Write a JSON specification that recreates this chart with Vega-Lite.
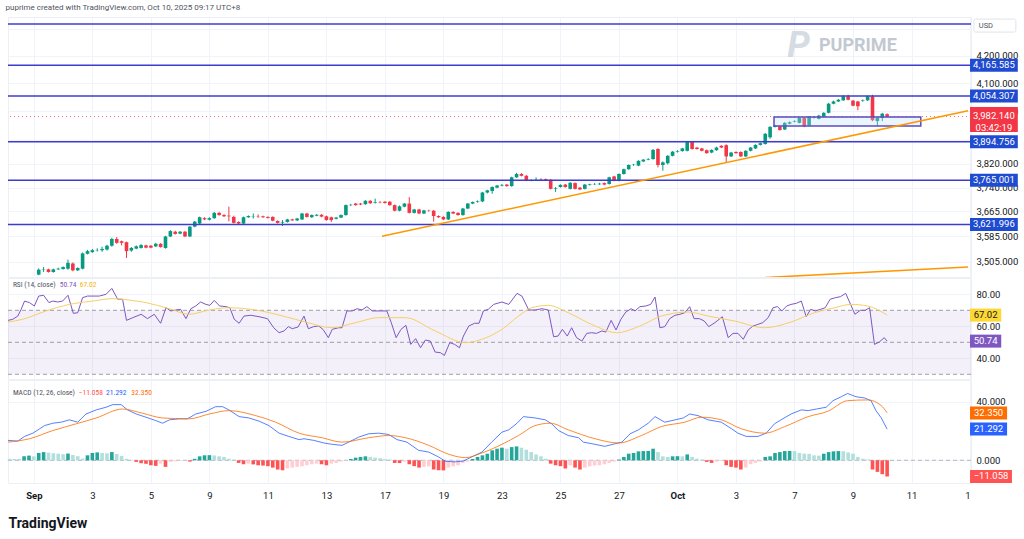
{
"$schema":"https://vega.github.io/schema/vega-lite/v6.json",
"background":"#ffffff",
"padding":{"left":5,"top":3,"right":0,"bottom":0},
"spacing":1,
"bounds":"flush",
"title":{"text":"puprime created with TradingView.com, Oct 10, 2025 09:17 UTC+8","anchor":"start","fontSize":8,"fontWeight":"normal","color":"#50535e","offset":5,"font":"Roboto"},
"config":{"font":"Roboto","view":{"stroke":"#eceff4","strokeWidth":1},"axis":{"labelFont":"Roboto","labelColor":"#131722","labelFontSize":9.5,"gridColor":"#f0f3fa","gridWidth":1,"domain":false,"ticks":false}},
"datasets":{
"candles":[
{"i":1,"o":3466,"h":3485,"l":3464,"c":3481},{"i":2,"o":3481,"h":3489,"l":3474,"c":3482},{"i":3,"o":3482,"h":3484,"l":3472,"c":3474},{"i":4,"o":3474,"h":3484,"l":3472,"c":3482},{"i":5,"o":3482,"h":3487,"l":3480,"c":3484},{"i":6,"o":3483,"h":3491,"l":3481,"c":3489},{"i":7,"o":3484,"h":3512,"l":3481,"c":3502},{"i":8,"o":3500,"h":3503,"l":3476,"c":3479},{"i":9,"o":3479,"h":3488,"l":3477,"c":3486},{"i":10,"o":3484,"h":3534,"l":3482,"c":3531},
{"i":11,"o":3530,"h":3542,"l":3528,"c":3538},{"i":12,"o":3535,"h":3545,"l":3533,"c":3541},{"i":13,"o":3541,"h":3547,"l":3537,"c":3542},{"i":14,"o":3541,"h":3552,"l":3536,"c":3545},{"i":15,"o":3543,"h":3558,"l":3540,"c":3555},{"i":16,"o":3555,"h":3580,"l":3552,"c":3576},{"i":17,"o":3576,"h":3582,"l":3561,"c":3564},{"i":18,"o":3569,"h":3571,"l":3556,"c":3564},{"i":19,"o":3566,"h":3568,"l":3517,"c":3538},{"i":20,"o":3540,"h":3551,"l":3536,"c":3548},
{"i":21,"o":3546,"h":3556,"l":3544,"c":3553},{"i":22,"o":3548,"h":3560,"l":3546,"c":3557},{"i":23,"o":3556,"h":3558,"l":3547,"c":3549},{"i":24,"o":3555,"h":3557,"l":3547,"c":3549},{"i":25,"o":3553,"h":3564,"l":3551,"c":3561},{"i":26,"o":3561,"h":3563,"l":3549,"c":3551},{"i":27,"o":3548,"h":3586,"l":3546,"c":3584},{"i":28,"o":3584,"h":3604,"l":3582,"c":3601},{"i":29,"o":3599,"h":3602,"l":3590,"c":3592},{"i":30,"o":3593,"h":3601,"l":3591,"c":3599},
{"i":31,"o":3599,"h":3601,"l":3582,"c":3584},{"i":32,"o":3584,"h":3617,"l":3582,"c":3615},{"i":33,"o":3615,"h":3633,"l":3613,"c":3631},{"i":34,"o":3625,"h":3647,"l":3622,"c":3645},{"i":35,"o":3642,"h":3645,"l":3636,"c":3638},{"i":36,"o":3637,"h":3645,"l":3635,"c":3642},{"i":37,"o":3642,"h":3662,"l":3640,"c":3659},{"i":38,"o":3659,"h":3662,"l":3650,"c":3652},{"i":39,"o":3652,"h":3655,"l":3646,"c":3648},{"i":40,"o":3650,"h":3679,"l":3632,"c":3648},
{"i":41,"o":3646,"h":3650,"l":3625,"c":3627},{"i":42,"o":3630,"h":3632,"l":3622,"c":3625},{"i":43,"o":3625,"h":3647,"l":3623,"c":3645},{"i":44,"o":3645,"h":3651,"l":3643,"c":3649},{"i":45,"o":3648,"h":3657,"l":3641,"c":3649},{"i":46,"o":3649,"h":3654,"l":3643,"c":3648},{"i":47,"o":3648,"h":3650,"l":3643,"c":3645},{"i":48,"o":3646,"h":3648,"l":3641,"c":3643},{"i":49,"o":3646,"h":3648,"l":3632,"c":3634},{"i":50,"o":3633,"h":3635,"l":3625,"c":3627},
{"i":51,"o":3628,"h":3636,"l":3617,"c":3630},{"i":52,"o":3630,"h":3640,"l":3628,"c":3638},{"i":53,"o":3638,"h":3640,"l":3633,"c":3635},{"i":54,"o":3635,"h":3643,"l":3633,"c":3641},{"i":55,"o":3638,"h":3659,"l":3636,"c":3657},{"i":56,"o":3657,"h":3659,"l":3644,"c":3646},{"i":57,"o":3645,"h":3654,"l":3643,"c":3652},{"i":58,"o":3650,"h":3655,"l":3648,"c":3653},{"i":59,"o":3653,"h":3655,"l":3645,"c":3647},{"i":60,"o":3648,"h":3650,"l":3634,"c":3636},
{"i":61,"o":3645,"h":3647,"l":3630,"c":3636},{"i":62,"o":3640,"h":3646,"l":3638,"c":3644},{"i":63,"o":3644,"h":3654,"l":3642,"c":3652},{"i":64,"o":3652,"h":3686,"l":3650,"c":3684},{"i":65,"o":3684,"h":3688,"l":3681,"c":3685},{"i":66,"o":3689,"h":3691,"l":3682,"c":3684},{"i":67,"o":3689,"h":3691,"l":3684,"c":3686},{"i":68,"o":3687,"h":3700,"l":3685,"c":3698},{"i":69,"o":3698,"h":3700,"l":3688,"c":3690},{"i":70,"o":3692,"h":3705,"l":3689,"c":3694},
{"i":71,"o":3694,"h":3697,"l":3690,"c":3693},{"i":72,"o":3695,"h":3697,"l":3689,"c":3691},{"i":73,"o":3695,"h":3697,"l":3682,"c":3684},{"i":74,"o":3684,"h":3686,"l":3664,"c":3666},{"i":75,"o":3666,"h":3683,"l":3664,"c":3680},{"i":76,"o":3679,"h":3691,"l":3677,"c":3689},{"i":77,"o":3689,"h":3710,"l":3657,"c":3659},{"i":78,"o":3659,"h":3672,"l":3657,"c":3670},{"i":79,"o":3670,"h":3672,"l":3655,"c":3657},{"i":80,"o":3657,"h":3669,"l":3655,"c":3667},
{"i":81,"o":3667,"h":3669,"l":3663,"c":3666},{"i":82,"o":3666,"h":3668,"l":3631,"c":3649},{"i":83,"o":3649,"h":3651,"l":3643,"c":3645},{"i":84,"o":3646,"h":3648,"l":3636,"c":3638},{"i":85,"o":3638,"h":3664,"l":3636,"c":3662},{"i":86,"o":3662,"h":3664,"l":3655,"c":3657},{"i":87,"o":3659,"h":3661,"l":3650,"c":3652},{"i":88,"o":3652,"h":3675,"l":3650,"c":3673},{"i":89,"o":3673,"h":3691,"l":3671,"c":3689},{"i":90,"o":3689,"h":3696,"l":3687,"c":3694},
{"i":91,"o":3694,"h":3699,"l":3692,"c":3696},{"i":92,"o":3696,"h":3727,"l":3694,"c":3725},{"i":93,"o":3725,"h":3734,"l":3722,"c":3732},{"i":94,"o":3730,"h":3745,"l":3721,"c":3743},{"i":95,"o":3741,"h":3750,"l":3739,"c":3748},{"i":96,"o":3748,"h":3753,"l":3745,"c":3750},{"i":97,"o":3751,"h":3753,"l":3744,"c":3746},{"i":98,"o":3746,"h":3777,"l":3744,"c":3775},{"i":99,"o":3775,"h":3790,"l":3773,"c":3786},{"i":100,"o":3786,"h":3789,"l":3778,"c":3780},
{"i":101,"o":3780,"h":3783,"l":3762,"c":3764},{"i":102,"o":3765,"h":3769,"l":3762,"c":3766},{"i":103,"o":3768,"h":3775,"l":3764,"c":3769},{"i":104,"o":3769,"h":3772,"l":3765,"c":3768},{"i":105,"o":3769,"h":3771,"l":3763,"c":3765},{"i":106,"o":3767,"h":3769,"l":3735,"c":3737},{"i":107,"o":3737,"h":3743,"l":3727,"c":3739},{"i":108,"o":3743,"h":3752,"l":3741,"c":3750},{"i":109,"o":3751,"h":3753,"l":3741,"c":3743},{"i":110,"o":3737,"h":3759,"l":3735,"c":3757},
{"i":111,"o":3756,"h":3758,"l":3735,"c":3737},{"i":112,"o":3741,"h":3743,"l":3733,"c":3735},{"i":113,"o":3737,"h":3753,"l":3735,"c":3751},{"i":114,"o":3750,"h":3754,"l":3748,"c":3752},{"i":115,"o":3752,"h":3756,"l":3750,"c":3753},{"i":116,"o":3752,"h":3757,"l":3750,"c":3754},{"i":117,"o":3756,"h":3758,"l":3749,"c":3751},{"i":118,"o":3753,"h":3777,"l":3751,"c":3775},{"i":119,"o":3778,"h":3780,"l":3762,"c":3764},{"i":120,"o":3764,"h":3788,"l":3762,"c":3786},
{"i":121,"o":3786,"h":3804,"l":3784,"c":3802},{"i":122,"o":3802,"h":3818,"l":3800,"c":3816},{"i":123,"o":3816,"h":3820,"l":3813,"c":3817},{"i":124,"o":3814,"h":3832,"l":3812,"c":3830},{"i":125,"o":3828,"h":3836,"l":3826,"c":3834},{"i":126,"o":3834,"h":3839,"l":3832,"c":3836},{"i":127,"o":3836,"h":3870,"l":3834,"c":3867},{"i":128,"o":3870,"h":3873,"l":3808,"c":3816},{"i":129,"o":3816,"h":3828,"l":3797,"c":3825},{"i":130,"o":3822,"h":3849,"l":3818,"c":3847},
{"i":131,"o":3847,"h":3863,"l":3845,"c":3861},{"i":132,"o":3861,"h":3866,"l":3858,"c":3863},{"i":133,"o":3863,"h":3874,"l":3861,"c":3872},{"i":134,"o":3864,"h":3897,"l":3862,"c":3894},{"i":135,"o":3894,"h":3897,"l":3868,"c":3870},{"i":136,"o":3875,"h":3877,"l":3868,"c":3870},{"i":137,"o":3872,"h":3874,"l":3862,"c":3864},{"i":138,"o":3866,"h":3868,"l":3854,"c":3856},{"i":139,"o":3858,"h":3869,"l":3856,"c":3867},{"i":140,"o":3866,"h":3878,"l":3864,"c":3875},
{"i":141,"o":3881,"h":3883,"l":3873,"c":3875},{"i":142,"o":3883,"h":3886,"l":3825,"c":3845},{"i":143,"o":3845,"h":3860,"l":3843,"c":3858},{"i":144,"o":3860,"h":3862,"l":3854,"c":3856},{"i":145,"o":3860,"h":3862,"l":3843,"c":3845},{"i":146,"o":3845,"h":3866,"l":3843,"c":3864},{"i":147,"o":3864,"h":3877,"l":3862,"c":3875},{"i":148,"o":3872,"h":3886,"l":3870,"c":3884},{"i":149,"o":3884,"h":3892,"l":3882,"c":3890},{"i":150,"o":3887,"h":3925,"l":3885,"c":3922},
{"i":151,"o":3910,"h":3948,"l":3905,"c":3946},{"i":152,"o":3946,"h":3953,"l":3944,"c":3950},{"i":153,"o":3948,"h":3950,"l":3933,"c":3935},{"i":154,"o":3937,"h":3962,"l":3935,"c":3960},{"i":155,"o":3957,"h":3965,"l":3955,"c":3962},{"i":156,"o":3964,"h":3969,"l":3962,"c":3966},{"i":157,"o":3960,"h":3980,"l":3958,"c":3977},{"i":158,"o":3977,"h":3980,"l":3945,"c":3948},{"i":159,"o":3951,"h":3983,"l":3949,"c":3981},{"i":160,"o":3978,"h":3983,"l":3975,"c":3979},
{"i":161,"o":3974,"h":3988,"l":3972,"c":3985},{"i":162,"o":3981,"h":3997,"l":3979,"c":3995},{"i":163,"o":3995,"h":4030,"l":3993,"c":4027},{"i":164,"o":4027,"h":4038,"l":4025,"c":4035},{"i":165,"o":4035,"h":4044,"l":4033,"c":4041},{"i":166,"o":4039,"h":4058,"l":4037,"c":4053},{"i":167,"o":4053,"h":4059,"l":4039,"c":4041},{"i":168,"o":4038,"h":4040,"l":4018,"c":4020},{"i":169,"o":4035,"h":4037,"l":4004,"c":4018},{"i":170,"o":4037,"h":4042,"l":4034,"c":4039},
{"i":171,"o":4039,"h":4056,"l":4037,"c":4053},{"i":172,"o":4053,"h":4059,"l":3966,"c":3969},{"i":173,"o":3966,"h":3980,"l":3948,"c":3977},{"i":174,"o":3977,"h":3995,"l":3966,"c":3992},{"i":175,"o":3990,"h":3993,"l":3980,"c":3982.14}
],
"levels":[{"p":4319},{"p":4165.585},{"p":4054.307},{"p":3894.756},{"p":3765.001},{"p":3621.996}],
"last":[{"p":3982.14,"t":"03:42:19"}],
"zone":[{"i1":151.8,"i2":181.9,"p1":3948.9,"p2":3980.2}],
"trend":[{"id":"a","i":71.4,"p":3585},{"id":"a","i":191.6,"p":4002},{"id":"b","i":150,"p":3457},{"id":"b","i":191.6,"p":3489}],
"rsi":[{"i":-5.3,"v":63.7},{"i":-4.3,"v":64.4},{"i":-3.3,"v":66.4},{"i":-2.6,"v":70.6},{"i":-1.9,"v":75.8},{"i":-0.9,"v":74.8},{"i":0.1,"v":72.7},{"i":1,"v":78.9},{"i":2,"v":79.4},{"i":3.1,"v":74.8},{"i":3.9,"v":75.8},{"i":4.9,"v":75.2},{"i":5.9,"v":75.8},{"i":7,"v":79.4},{"i":8.1,"v":68.1},{"i":9,"v":68.5},{"i":10,"v":77.9},{"i":11,"v":78.9},{"i":13.4,"v":78.9},{"i":14.8,"v":80},{"i":16,"v":83.7},{"i":17.2,"v":76.9},{"i":18.2,"v":76.9},{"i":19,"v":63.7},{"i":20.3,"v":65.4},{"i":22,"v":67.5},{"i":23.3,"v":64.8},{"i":24.7,"v":67.5},{"i":26,"v":61.9},{"i":27.1,"v":71.6},{"i":28.1,"v":69.6},{"i":29.1,"v":70.2},{"i":30.1,"v":70.6},{"i":31.2,"v":64.8},{"i":32.2,"v":71},{"i":33.2,"v":72.7},{"i":34.2,"v":75.2},{"i":35.3,"v":73.7},{"i":36.1,"v":73.1},{"i":37,"v":76.2},{"i":38.1,"v":72.7},{"i":39.4,"v":72.3},{"i":40.2,"v":71.6},{"i":41.1,"v":64.4},{"i":42.1,"v":61.9},{"i":43.1,"v":66.4},{"i":44.5,"v":66.9},{"i":46.2,"v":66},{"i":47.9,"v":64.8},{"i":49.2,"v":59.1},{"i":50.3,"v":56},{"i":51.3,"v":57.1},{"i":52.2,"v":59.8},{"i":53,"v":58.5},{"i":54.2,"v":59.6},{"i":55.4,"v":66.4},{"i":56.3,"v":58.5},{"i":57.4,"v":59.8},{"i":58.4,"v":60.2},{"i":59.3,"v":58.1},{"i":60.4,"v":52.9},{"i":61.2,"v":58.1},{"i":62.5,"v":59.1},{"i":63.2,"v":59.1},{"i":64.2,"v":69.6},{"i":65.3,"v":69.6},{"i":66.3,"v":71},{"i":67.3,"v":70.2},{"i":68.3,"v":72.3},{"i":69.4,"v":69.6},{"i":70.4,"v":69.6},{"i":71.4,"v":69.6},{"i":72.4,"v":69.6},{"i":73.3,"v":62.3},{"i":74.3,"v":52.9},{"i":75.3,"v":58.1},{"i":76.3,"v":60.6},{"i":77.3,"v":48.7},{"i":78.3,"v":52.3},{"i":79.3,"v":46.6},{"i":80.3,"v":51.4},{"i":81.3,"v":50.8},{"i":82.3,"v":43.9},{"i":83.4,"v":43.5},{"i":84.2,"v":41.8},{"i":85.3,"v":49.8},{"i":86.3,"v":48.7},{"i":87.3,"v":46.6},{"i":88.1,"v":53.9},{"i":89.2,"v":60.2},{"i":90.4,"v":61.9},{"i":91.3,"v":61.9},{"i":92.2,"v":69.6},{"i":93.2,"v":70.6},{"i":94.3,"v":73.7},{"i":96,"v":75.2},{"i":97.4,"v":73.7},{"i":99.1,"v":80.6},{"i":100.1,"v":78.9},{"i":101.5,"v":70.2},{"i":102.8,"v":70.2},{"i":104.2,"v":71},{"i":105.5,"v":70.2},{"i":106.6,"v":53.5},{"i":107.5,"v":53.9},{"i":108.4,"v":58.1},{"i":109.4,"v":53.9},{"i":110.3,"v":59.1},{"i":111.3,"v":52.9},{"i":112.4,"v":50.8},{"i":113.4,"v":55.6},{"i":114.4,"v":56},{"i":115.4,"v":55.6},{"i":116.5,"v":57.1},{"i":117.3,"v":56.4},{"i":118.4,"v":63.7},{"i":119.4,"v":57.7},{"i":120.4,"v":64.4},{"i":121.4,"v":68.9},{"i":122.5,"v":71},{"i":123.3,"v":69.6},{"i":124.3,"v":72.3},{"i":125.5,"v":72.7},{"i":126.5,"v":73.7},{"i":127.4,"v":78.3},{"i":128.4,"v":59.1},{"i":129.4,"v":59.8},{"i":130.4,"v":64.8},{"i":131.5,"v":66.9},{"i":132.5,"v":67.5},{"i":133.5,"v":68.5},{"i":134.5,"v":72.3},{"i":135.4,"v":64.8},{"i":136.5,"v":64.8},{"i":137.5,"v":63.3},{"i":138.4,"v":59.8},{"i":139.7,"v":62.3},{"i":141.2,"v":66},{"i":142.4,"v":52.9},{"i":143.4,"v":55.6},{"i":144.4,"v":55.6},{"i":145.5,"v":51.9},{"i":146.5,"v":57.7},{"i":147.5,"v":60.2},{"i":148.5,"v":61.2},{"i":149.5,"v":62.3},{"i":150.6,"v":65.4},{"i":151.6,"v":71.6},{"i":152.5,"v":72.3},{"i":153.4,"v":69.6},{"i":154.4,"v":72.7},{"i":155.3,"v":73.7},{"i":156.4,"v":74.4},{"i":157.4,"v":75.8},{"i":158.4,"v":66},{"i":159.3,"v":70.6},{"i":160.3,"v":69.6},{"i":161.3,"v":70.6},{"i":162.3,"v":71.6},{"i":163.3,"v":76.9},{"i":164.4,"v":77.9},{"i":165.4,"v":78.5},{"i":166.5,"v":80.6},{"i":167.5,"v":73.7},{"i":168.4,"v":67.5},{"i":169.5,"v":70},{"i":170.5,"v":70},{"i":171.4,"v":71.6},{"i":172.4,"v":48.7},{"i":173.4,"v":50.2},{"i":174.4,"v":52.9},{"i":175,"v":50.74}],
"rsima":[{"i":-5.3,"v":62.7},{"i":-2.3,"v":64.4},{"i":2.5,"v":69.6},{"i":7.3,"v":73.7},{"i":12.1,"v":75.8},{"i":16.2,"v":77.3},{"i":19.6,"v":76.4},{"i":23,"v":74.8},{"i":27.8,"v":71},{"i":31.8,"v":67.5},{"i":36,"v":70.2},{"i":40,"v":71.6},{"i":45.5,"v":70.2},{"i":51.6,"v":66},{"i":55.7,"v":62.7},{"i":61.2,"v":59.1},{"i":66,"v":62.3},{"i":70.7,"v":65.4},{"i":76.2,"v":65.4},{"i":82.3,"v":57.1},{"i":88.5,"v":49.8},{"i":91.9,"v":51.9},{"i":96,"v":58.1},{"i":99.4,"v":66.4},{"i":102.1,"v":71.6},{"i":105.5,"v":73.1},{"i":109.6,"v":68.5},{"i":115.1,"v":60.2},{"i":119.5,"v":56},{"i":124.6,"v":60.6},{"i":128.7,"v":66.4},{"i":134.2,"v":68.9},{"i":138.3,"v":66.4},{"i":143.7,"v":63.3},{"i":149.9,"v":59.1},{"i":155.3,"v":62.7},{"i":160.1,"v":68.5},{"i":164.2,"v":71.6},{"i":167.6,"v":73.7},{"i":171,"v":72.7},{"i":175,"v":67.02}],
"rsilev":[{"v":70},{"v":50},{"v":30}],
"macd":[{"i":-5.3,"v":13.6},{"i":-3.3,"v":13.1},{"i":-1.9,"v":16.3},{"i":-0.2,"v":18.5},{"i":1.2,"v":21.5},{"i":2.2,"v":23.7},{"i":3.9,"v":25.3},{"i":5.6,"v":26},{"i":7.3,"v":27.6},{"i":9,"v":26},{"i":10.7,"v":31.6},{"i":12.8,"v":34.4},{"i":14.8,"v":36.2},{"i":16.2,"v":38},{"i":17.9,"v":38},{"i":19.2,"v":34.4},{"i":21,"v":31.6},{"i":23,"v":29.4},{"i":25,"v":27.1},{"i":26.4,"v":25.3},{"i":27.8,"v":27.6},{"i":29.8,"v":28.3},{"i":31.5,"v":28.3},{"i":33.2,"v":31.6},{"i":35.3,"v":33.4},{"i":37.3,"v":36.6},{"i":38.7,"v":36.6},{"i":40,"v":34.4},{"i":42.1,"v":29.8},{"i":44.1,"v":28.9},{"i":46.2,"v":26.7},{"i":48.2,"v":23.7},{"i":50.3,"v":18.5},{"i":52.3,"v":16.3},{"i":54.4,"v":14.1},{"i":55.4,"v":14.7},{"i":57.4,"v":13.6},{"i":59.5,"v":11.8},{"i":61.2,"v":10.9},{"i":63.2,"v":10.2},{"i":64.6,"v":12.4},{"i":66.6,"v":15.8},{"i":68.7,"v":18.1},{"i":70.7,"v":18.5},{"i":72.8,"v":17.6},{"i":74.5,"v":14.1},{"i":76.5,"v":12.4},{"i":78.9,"v":6.8},{"i":81,"v":5.6},{"i":83,"v":2.3},{"i":84.4,"v":-0.7},{"i":86.4,"v":-1.1},{"i":88.1,"v":-0.5},{"i":89.8,"v":2.3},{"i":91.9,"v":5.6},{"i":93.9,"v":12.4},{"i":96,"v":19.2},{"i":97.4,"v":20.8},{"i":99.1,"v":25.3},{"i":100.4,"v":29.8},{"i":102.8,"v":28.9},{"i":104.9,"v":27.6},{"i":106.2,"v":24.9},{"i":107.6,"v":20.3},{"i":109.6,"v":16.9},{"i":111.7,"v":15.4},{"i":112.7,"v":12.4},{"i":115.1,"v":10.9},{"i":117.1,"v":9.5},{"i":119.2,"v":11.3},{"i":120.6,"v":12.4},{"i":122.3,"v":18.1},{"i":124,"v":20.8},{"i":126,"v":25.3},{"i":127.4,"v":29.8},{"i":129.4,"v":26},{"i":131.5,"v":27.6},{"i":133.2,"v":28.9},{"i":134.5,"v":31.6},{"i":136.2,"v":30.5},{"i":138.3,"v":27.6},{"i":141,"v":26},{"i":143.1,"v":21.5},{"i":144.4,"v":18.5},{"i":146.1,"v":16.3},{"i":148.5,"v":16.3},{"i":150.2,"v":18.5},{"i":151.9,"v":24.9},{"i":153.6,"v":28.3},{"i":155.3,"v":31.6},{"i":157.4,"v":34.4},{"i":158.8,"v":33.9},{"i":160.5,"v":35},{"i":162.5,"v":36.2},{"i":163.9,"v":40.7},{"i":165.6,"v":43.4},{"i":166.9,"v":45.6},{"i":168.6,"v":43.4},{"i":170.4,"v":42.5},{"i":171.7,"v":40.7},{"i":172.7,"v":33.9},{"i":173.8,"v":28.9},{"i":175,"v":21.292}],
"signal":[{"i":-5.3,"v":12.4},{"i":-0.9,"v":14.7},{"i":3.9,"v":20.3},{"i":8.7,"v":24.9},{"i":12.8,"v":28.9},{"i":18.2,"v":35},{"i":22.3,"v":32.1},{"i":26.4,"v":28.9},{"i":31.8,"v":28.3},{"i":36,"v":31.6},{"i":40,"v":33.9},{"i":45.5,"v":30.5},{"i":49.6,"v":26},{"i":54.4,"v":18.5},{"i":59.1,"v":15.4},{"i":63.2,"v":12.4},{"i":68.7,"v":15.4},{"i":72.8,"v":16.9},{"i":76.2,"v":15.4},{"i":81,"v":10.2},{"i":85.1,"v":4.1},{"i":88.5,"v":1.8},{"i":91.9,"v":5},{"i":96,"v":10.9},{"i":99.4,"v":16.9},{"i":102.8,"v":23.7},{"i":105.9,"v":25.3},{"i":109.6,"v":20.8},{"i":115.1,"v":14.7},{"i":119.9,"v":11.8},{"i":124.6,"v":16.9},{"i":128.7,"v":23},{"i":133.5,"v":26},{"i":136.9,"v":29.4},{"i":141,"v":27.6},{"i":145.1,"v":21.5},{"i":149.9,"v":18.5},{"i":154,"v":23},{"i":158.8,"v":29.8},{"i":162.8,"v":33.4},{"i":166.9,"v":40.7},{"i":171,"v":41.2},{"i":173.8,"v":37.3},{"i":175,"v":32.35}],
"hist":[{"i":-5,"h":1.0},{"i":-4,"h":0.9},{"i":-3,"h":0.8},{"i":-2,"h":2.7},{"i":-1,"h":3.2},{"i":0,"h":2.7},{"i":1,"h":5.0},{"i":2,"h":5.6},{"i":3,"h":5.2},{"i":4,"h":4.8},{"i":5,"h":4.5},{"i":6,"h":4.2},{"i":7,"h":4.6},{"i":8,"h":3.6},{"i":9,"h":2.8},{"i":10,"h":1.2},{"i":11,"h":3.4},{"i":12,"h":5.0},{"i":13,"h":5.4},{"i":14,"h":5.0},{"i":15,"h":4.7},{"i":16,"h":5.6},{"i":17,"h":4.3},{"i":18,"h":3.0},{"i":19,"h":1.0},{"i":20,"h":0.3},{"i":21,"h":-1.1},{"i":22,"h":-2.0},{"i":23,"h":-2.4},{"i":24,"h":-3.4},{"i":25,"h":-3.8},{"i":26,"h":-2.3},{"i":27,"h":-4.5},{"i":28,"h":-1.1},{"i":29,"h":-0.7},{"i":30,"h":-0.4},{"i":31,"h":-0.2},{"i":32,"h":-0.9},{"i":33,"h":1.0},{"i":34,"h":2.7},{"i":35,"h":3.4},{"i":36,"h":3.5},{"i":37,"h":3.3},{"i":38,"h":2.7},{"i":39,"h":2.3},{"i":40,"h":1.1},{"i":41,"h":0.4},{"i":42,"h":-1.8},{"i":43,"h":-2.7},{"i":44,"h":-2.3},{"i":45,"h":-2.8},{"i":46,"h":-3.4},{"i":47,"h":-3.6},{"i":48,"h":-4.0},{"i":49,"h":-5.0},{"i":50,"h":-6.3},{"i":51,"h":-6.8},{"i":52,"h":-5.6},{"i":53,"h":-5.0},{"i":54,"h":-4.5},{"i":55,"h":-4.1},{"i":56,"h":-3.4},{"i":57,"h":-2.7},{"i":58,"h":-2.3},{"i":59,"h":-2.7},{"i":60,"h":-3.4},{"i":61,"h":-2.3},{"i":62,"h":-1.8},{"i":63,"h":-0.9},{"i":64,"h":-0.3},{"i":65,"h":0.9},{"i":66,"h":1.8},{"i":67,"h":2.3},{"i":68,"h":2.7},{"i":69,"h":2.3},{"i":70,"h":1.8},{"i":71,"h":1.4},{"i":72,"h":0.9},{"i":73,"h":0.5},{"i":74,"h":-1.8},{"i":75,"h":-1.9},{"i":76,"h":-0.9},{"i":77,"h":-2.7},{"i":78,"h":-4.0},{"i":79,"h":-5.0},{"i":80,"h":-4.5},{"i":81,"h":-4.1},{"i":82,"h":-6.3},{"i":83,"h":-6.8},{"i":84,"h":-6.9},{"i":85,"h":-5.0},{"i":86,"h":-4.1},{"i":87,"h":-3.4},{"i":88,"h":-1.8},{"i":89,"h":-0.9},{"i":90,"h":0.9},{"i":91,"h":2.3},{"i":92,"h":3.4},{"i":93,"h":4.5},{"i":94,"h":6.8},{"i":95,"h":7.9},{"i":96,"h":8.6},{"i":97,"h":7.9},{"i":98,"h":9.0},{"i":99,"h":9.5},{"i":100,"h":8.6},{"i":101,"h":7.2},{"i":102,"h":5.6},{"i":103,"h":4.0},{"i":104,"h":2.7},{"i":105,"h":1.1},{"i":106,"h":-2.3},{"i":107,"h":-3.4},{"i":108,"h":-4.0},{"i":109,"h":-5.6},{"i":110,"h":-3.4},{"i":111,"h":-5.0},{"i":112,"h":-6.3},{"i":113,"h":-5.0},{"i":114,"h":-4.1},{"i":115,"h":-3.6},{"i":116,"h":-3.4},{"i":117,"h":-2.7},{"i":118,"h":-1.8},{"i":119,"h":-0.9},{"i":120,"h":0.5},{"i":121,"h":2.3},{"i":122,"h":4.5},{"i":123,"h":5.0},{"i":124,"h":6.1},{"i":125,"h":6.3},{"i":126,"h":6.4},{"i":127,"h":7.9},{"i":128,"h":5.6},{"i":129,"h":2.7},{"i":130,"h":2.3},{"i":131,"h":2.7},{"i":132,"h":2.8},{"i":133,"h":2.7},{"i":134,"h":4.0},{"i":135,"h":2.3},{"i":136,"h":1.1},{"i":137,"h":0.5},{"i":138,"h":-1.1},{"i":139,"h":-1.8},{"i":140,"h":-0.9},{"i":141,"h":-0.5},{"i":142,"h":-3.4},{"i":143,"h":-4.5},{"i":144,"h":-5.0},{"i":145,"h":-6.3},{"i":146,"h":-5.0},{"i":147,"h":-2.7},{"i":148,"h":-1.8},{"i":149,"h":-0.9},{"i":150,"h":2.3},{"i":151,"h":2.7},{"i":152,"h":5.0},{"i":153,"h":5.6},{"i":154,"h":6.3},{"i":155,"h":6.4},{"i":156,"h":6.3},{"i":157,"h":5.0},{"i":158,"h":4.5},{"i":159,"h":4.4},{"i":160,"h":3.4},{"i":161,"h":3.2},{"i":162,"h":4.5},{"i":163,"h":5.6},{"i":164,"h":6.1},{"i":165,"h":6.3},{"i":166,"h":6.2},{"i":167,"h":5.4},{"i":168,"h":4.5},{"i":169,"h":2.3},{"i":170,"h":1.1},{"i":171,"h":0.5},{"i":172,"h":-6.3},{"i":173,"h":-7.9},{"i":174,"h":-9.5},{"i":175,"h":-11.058}]
},
"vconcat":[
{"width":963,"height":260,"layer":[
 {"data":{"name":"candles"},"mark":{"type":"rule","strokeWidth":1},"encoding":{
  "x":{"field":"i","type":"quantitative","title":null,"scale":{"domain":[-5.3,192.2],"nice":false,"zero":false,"padding":0},"axis":{"values":[0,12,24,36,48,60,72,84,96,108,120,132,144,156,168,180,192],"labels":false,"grid":true,"labelPadding":0,"minExtent":0,"maxExtent":0}},
  "y":{"field":"l","type":"quantitative","title":null,"scale":{"type":"log","domain":[3458.7,4345.6],"nice":false,"zero":false,"padding":0},"axis":{"orient":"right","values":[4300,4200,4100,4000,3900,3820,3740,3665,3585,3505],"format":",.3f","labelExpr":"datum.value == 4300 || datum.value == 3900 ? '' : datum.label","grid":true,"labelPadding":5}},
  "y2":{"field":"h"},
  "color":{"condition":{"test":"datum.c >= datum.o","value":"#089981"},"value":"#f23645"}}},
 {"data":{"name":"candles"},"mark":{"type":"bar","width":3.6},"encoding":{
  "x":{"field":"i","type":"quantitative","title":null},
  "y":{"field":"o","type":"quantitative","title":null},
  "y2":{"field":"c"},
  "color":{"condition":{"test":"datum.c >= datum.o","value":"#089981"},"value":"#f23645"}}},
 {"data":{"name":"levels"},"mark":{"type":"rule","color":"#3c3ccf","strokeWidth":1.5},"encoding":{"y":{"field":"p","type":"quantitative","title":null}}},
 {"data":{"name":"last"},"mark":{"type":"rule","color":"#f23645","strokeDash":[1,3],"opacity":0.7},"encoding":{"y":{"field":"p","type":"quantitative","title":null}}},
 {"data":{"name":"zone"},"mark":{"type":"rect","fill":"#bbdefb","fillOpacity":0.3,"stroke":"#5b4bc4","strokeWidth":1.5},"encoding":{"x":{"field":"i1","type":"quantitative","title":null},"x2":{"field":"i2"},"y":{"field":"p1","type":"quantitative","title":null},"y2":{"field":"p2"}}},
 {"data":{"name":"trend"},"mark":{"type":"line","color":"#ff9800","strokeWidth":1.5,"clip":true},"encoding":{"x":{"field":"i","type":"quantitative","title":null},"y":{"field":"p","type":"quantitative","title":null},"detail":{"field":"id"}}},
 {"data":{"name":"levels"},"transform":[{"filter":"datum.p < 4300"}],"mark":{"type":"rect","height":13,"color":"#1f4bd1"},"encoding":{"x":{"datum":192.0},"x2":{"datum":201.8},"y":{"field":"p","type":"quantitative","title":null}}},
 {"data":{"name":"levels"},"transform":[{"filter":"datum.p < 4300"}],"mark":{"type":"text","color":"#ffffff","fontSize":9.5,"align":"center","baseline":"middle"},"encoding":{"x":{"datum":196.9},"y":{"field":"p","type":"quantitative","title":null},"text":{"field":"p","type":"quantitative","format":",.3f"}}},
 {"data":{"name":"last"},"mark":{"type":"rect","height":25,"color":"#f23645"},"encoding":{"x":{"datum":192.0},"x2":{"datum":201.8},"y":{"datum":3971.6}}},
 {"data":{"name":"last"},"mark":{"type":"text","color":"#ffffff","fontSize":9.5,"align":"center","baseline":"middle"},"encoding":{"x":{"datum":196.9},"y":{"field":"p","type":"quantitative","title":null},"text":{"field":"p","type":"quantitative","format":",.3f"}}},
 {"data":{"name":"last"},"mark":{"type":"text","color":"#ffffff","fontSize":9.5,"align":"center","baseline":"middle","dy":12},"encoding":{"x":{"datum":196.9},"y":{"field":"p","type":"quantitative","title":null},"text":{"field":"t"}}},
 {"data":{"values":[{"u":"USD","p":4313}]},"mark":{"type":"rect","height":13,"fill":"#ffffff","stroke":"#e0e3eb","cornerRadius":2},"encoding":{"x":{"datum":192.8},"x2":{"datum":201.4},"y":{"field":"p","type":"quantitative","title":null}}},
 {"data":{"values":[{"u":"USD","p":4313}]},"mark":{"type":"text","color":"#50535e","fontSize":7.5,"align":"left","baseline":"middle"},"encoding":{"x":{"datum":193.8},"y":{"field":"p","type":"quantitative","title":null},"text":{"field":"u"}}},
 {"data":{"values":[{"t":"PUPRIME","p":4236}]},"mark":{"type":"text","color":"#b8bfca","fontSize":18,"fontWeight":"bold","align":"center","baseline":"middle","opacity":0.85},"encoding":{"x":{"datum":169},"y":{"field":"p","type":"quantitative","title":null},"text":{"field":"t"}}},
 {"data":{"values":[{"t":"P","p":4236}]},"mark":{"type":"text","color":"#cfd6e0","fontSize":36,"fontWeight":"bold","fontStyle":"italic","align":"center","baseline":"middle","opacity":0.85},"encoding":{"x":{"datum":156.8},"y":{"field":"p","type":"quantitative","title":null},"text":{"field":"t"}}}
]},
{"width":963,"height":101,"layer":[
 {"data":{"values":[{}]},"mark":{"type":"rect","color":"#7e57c2","opacity":0.09},"encoding":{"x":{"datum":-5.3},"x2":{"datum":192.2},"y":{"datum":30},"y2":{"datum":70}}},
 {"data":{"name":"rsilev"},"mark":{"type":"rule","color":"#787b86","strokeDash":[4,3],"opacity":0.7},"encoding":{"y":{"field":"v","type":"quantitative","title":null}}},
 {"data":{"name":"rsi"},"mark":{"type":"line","color":"#7e57c2","strokeWidth":1},"encoding":{
  "x":{"field":"i","type":"quantitative","title":null,"scale":{"domain":[-5.3,192.2],"nice":false,"zero":false,"padding":0},"axis":{"values":[0,12,24,36,48,60,72,84,96,108,120,132,144,156,168,180,192],"labels":false,"grid":true,"labelPadding":0,"minExtent":0,"maxExtent":0}},
  "y":{"field":"v","type":"quantitative","title":null,"scale":{"domain":[27.06,90.2],"nice":false,"zero":false},"axis":{"orient":"right","values":[40,60,80],"format":".2f","grid":true,"labelPadding":5}}}},
 {"data":{"name":"rsima"},"mark":{"type":"line","color":"#f7cf66","strokeWidth":1,"interpolate":"monotone"},"encoding":{"x":{"field":"i","type":"quantitative","title":null},"y":{"field":"v","type":"quantitative","title":null}}},
 {"data":{"values":[{"t":"RSI (14, close)"}]},"mark":{"type":"text","color":"#50535e","fontSize":7.5,"font":"Liberation Sans Narrow, Roboto Condensed, DejaVu Sans Condensed, Roboto","align":"left","baseline":"middle"},"encoding":{"x":{"datum":-4.3},"y":{"datum":85.8},"text":{"field":"t"}}},
 {"data":{"values":[{"t":"50.74"}]},"mark":{"type":"text","color":"#7e57c2","fontSize":7.5,"font":"Liberation Sans Narrow, Roboto Condensed, DejaVu Sans Condensed, Roboto","align":"left","baseline":"middle"},"encoding":{"x":{"datum":5.3},"y":{"datum":85.8},"text":{"field":"t"}}},
 {"data":{"values":[{"t":"67.02"}]},"mark":{"type":"text","color":"#f2b705","fontSize":7.5,"font":"Liberation Sans Narrow, Roboto Condensed, DejaVu Sans Condensed, Roboto","align":"left","baseline":"middle"},"encoding":{"x":{"datum":9.4},"y":{"datum":85.8},"text":{"field":"t"}}},
 {"data":{"values":[{"v":67.02}]},"mark":{"type":"rect","height":13,"color":"#fdd835"},"encoding":{"x":{"datum":192.0},"x2":{"datum":198.4},"y":{"field":"v","type":"quantitative","title":null}}},
 {"data":{"values":[{"v":67.02}]},"mark":{"type":"text","color":"#131722","fontSize":9.5,"align":"center","baseline":"middle"},"encoding":{"x":{"datum":195.2},"y":{"field":"v","type":"quantitative","title":null},"text":{"field":"v","type":"quantitative","format":".2f"}}},
 {"data":{"values":[{"v":50.74}]},"mark":{"type":"rect","height":13,"color":"#7e57c2"},"encoding":{"x":{"datum":192.0},"x2":{"datum":198.4},"y":{"field":"v","type":"quantitative","title":null}}},
 {"data":{"values":[{"v":50.74}]},"mark":{"type":"text","color":"#ffffff","fontSize":9.5,"align":"center","baseline":"middle"},"encoding":{"x":{"datum":195.2},"y":{"field":"v","type":"quantitative","title":null},"text":{"field":"v","type":"quantitative","format":".2f"}}}
]},
{"width":963,"height":103,"layer":[
 {"data":{"values":[{"v":0}]},"mark":{"type":"rule","color":"#b2b5be","strokeDash":[4,3]},"encoding":{"y":{"field":"v","type":"quantitative","title":null}}},
 {"data":{"name":"hist"},"transform":[{"window":[{"op":"lag","field":"h","as":"prev"}],"sort":[{"field":"i"}]}],"mark":{"type":"bar","width":3.6},"encoding":{
  "x":{"field":"i","type":"quantitative","scale":{"domain":[-5.3,192.2],"nice":false,"zero":false,"padding":0},"axis":{"title":"TradingView","values":[0,12,24,36,48,60,72,84,96,108,120,132,144,156,168,180,192],"labelExpr":"['Sep','3','5','9','11','13','17','19','23','25','27','Oct','3','7','9','11','1'][round(datum.value/12)]","labelFontWeight":{"condition":{"test":"datum.value == 0 || datum.value == 132","value":"bold"},"value":"normal"},"labelPadding":7,"grid":true,"titleAnchor":"start","titleAlign":"left","titleFontSize":14,"titleFontWeight":"bold","titleColor":"#131722","titlePadding":17,"titleFont":"Roboto"}},
  "y":{"field":"h","type":"quantitative","title":null,"scale":{"domain":[-15.5,54.8],"nice":false,"zero":false,"padding":0},"axis":{"orient":"right","values":[0,40],"format":".3f","grid":true,"labelPadding":5}},
  "y2":{"datum":0},
  "color":{"condition":[{"test":"datum.h >= 0 && datum.prev != null && datum.h >= datum.prev","value":"#26a69a"},{"test":"datum.h >= 0","value":"#b2dfdb"},{"test":"datum.h < datum.prev","value":"#ff5252"}],"value":"#ffcdd2"}}},
 {"data":{"name":"macd"},"mark":{"type":"line","color":"#2962ff","strokeWidth":1,"opacity":0.8},"encoding":{"x":{"field":"i","type":"quantitative"},"y":{"field":"v","type":"quantitative","title":null}}},
 {"data":{"name":"signal"},"mark":{"type":"line","color":"#ff6d00","strokeWidth":1,"opacity":0.8,"interpolate":"monotone"},"encoding":{"x":{"field":"i","type":"quantitative"},"y":{"field":"v","type":"quantitative","title":null}}},
 {"data":{"values":[{"t":"MACD (12, 26, close)"}]},"mark":{"type":"text","color":"#50535e","fontSize":7.5,"font":"Liberation Sans Narrow, Roboto Condensed, DejaVu Sans Condensed, Roboto","align":"left","baseline":"middle"},"encoding":{"x":{"datum":-4.3},"y":{"datum":45.9},"text":{"field":"t"}}},
 {"data":{"values":[{"t":"−11.058"}]},"mark":{"type":"text","color":"#ff5252","fontSize":7.5,"font":"Liberation Sans Narrow, Roboto Condensed, DejaVu Sans Condensed, Roboto","align":"left","baseline":"middle"},"encoding":{"x":{"datum":9.2},"y":{"datum":45.9},"text":{"field":"t"}}},
 {"data":{"values":[{"t":"21.292"}]},"mark":{"type":"text","color":"#2962ff","fontSize":7.5,"font":"Liberation Sans Narrow, Roboto Condensed, DejaVu Sans Condensed, Roboto","align":"left","baseline":"middle"},"encoding":{"x":{"datum":14.8},"y":{"datum":45.9},"text":{"field":"t"}}},
 {"data":{"values":[{"t":"32.350"}]},"mark":{"type":"text","color":"#ff6d00","fontSize":7.5,"font":"Liberation Sans Narrow, Roboto Condensed, DejaVu Sans Condensed, Roboto","align":"left","baseline":"middle"},"encoding":{"x":{"datum":20.0},"y":{"datum":45.9},"text":{"field":"t"}}},
 {"data":{"values":[{"v":32.35,"t":"32.350"}]},"mark":{"type":"rect","height":13,"color":"#ff6d00"},"encoding":{"x":{"datum":192.0},"x2":{"datum":199.6},"y":{"field":"v","type":"quantitative","title":null}}},
 {"data":{"values":[{"v":32.35,"t":"32.350"}]},"mark":{"type":"text","color":"#ffffff","fontSize":9.5,"align":"center","baseline":"middle"},"encoding":{"x":{"datum":195.8},"y":{"field":"v","type":"quantitative","title":null},"text":{"field":"t"}}},
 {"data":{"values":[{"v":21.292,"t":"21.292"}]},"mark":{"type":"rect","height":13,"color":"#2962ff"},"encoding":{"x":{"datum":192.0},"x2":{"datum":199.6},"y":{"field":"v","type":"quantitative","title":null}}},
 {"data":{"values":[{"v":21.292,"t":"21.292"}]},"mark":{"type":"text","color":"#ffffff","fontSize":9.5,"align":"center","baseline":"middle"},"encoding":{"x":{"datum":195.8},"y":{"field":"v","type":"quantitative","title":null},"text":{"field":"t"}}},
 {"data":{"values":[{"v":-11.058,"t":"−11.058"}]},"mark":{"type":"rect","height":13,"color":"#ff5252"},"encoding":{"x":{"datum":192.0},"x2":{"datum":200.6},"y":{"field":"v","type":"quantitative","title":null}}},
 {"data":{"values":[{"v":-11.058,"t":"−11.058"}]},"mark":{"type":"text","color":"#ffffff","fontSize":9.5,"align":"center","baseline":"middle"},"encoding":{"x":{"datum":196.3},"y":{"field":"v","type":"quantitative","title":null},"text":{"field":"t"}}}
]}
]
}
